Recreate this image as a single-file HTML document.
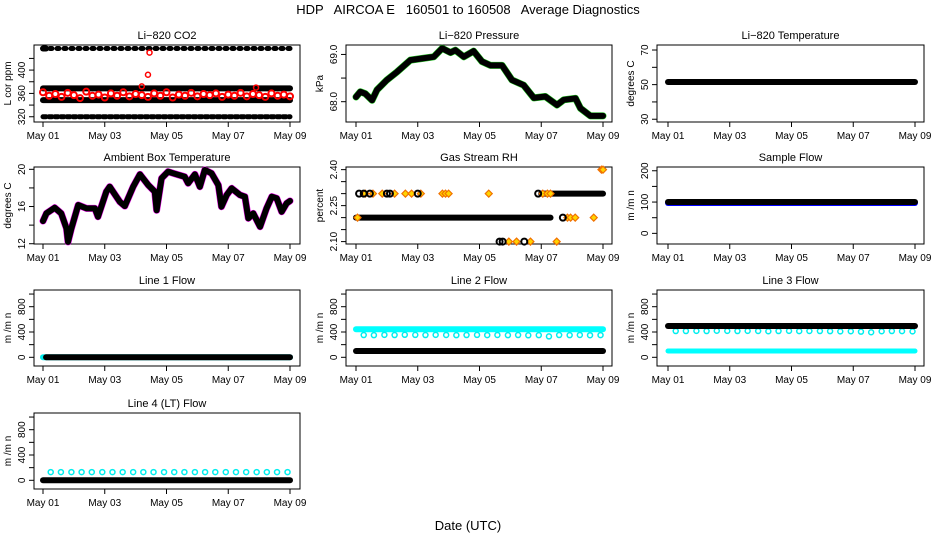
<!DOCTYPE html>
<html><head><meta charset="utf-8"><style>
body{margin:0;background:#fff;}
svg{display:block;font-family:"Liberation Sans",sans-serif;}
#main-title{white-space:pre;}
</style></head><body>
<svg id="c" width="936" height="540" xmlns="http://www.w3.org/2000/svg">
<text id="main-title" x="468" y="14" text-anchor="middle" font-size="13" xml:space="preserve">HDP   AIRCOA E   160501 to 160508   Average Diagnostics</text>
<text x="468" y="530" text-anchor="middle" font-size="13">Date (UTC)</text>
</svg>
<script>
// ---- data ----
const dateTicks = [0, 2, 4, 6, 8];
const dateLabels = ["May 01", "May 03", "May 05", "May 07", "May 09"];
const co2Bands = [437, 368.7, 348.6, 320];
const co2RedDays = [0,0.2,0.4,0.6,0.8,1.0,1.2,1.4,1.6,1.8,2.0,2.2,2.4,2.6,2.8,3.0,3.2,3.4,3.6,3.8,4.0,4.2,4.4,4.6,4.8,5.0,5.2,5.4,5.6,5.8,6.0,6.2,6.4,6.6,6.8,7.0,7.2,7.4,7.6,7.8,8.0];
const co2RedVals = [362,356,359,354,361,357,352,363,356,358,353,360,356,362,355,359,357,354,360,356,362,353,358,356,361,355,359,357,360,354,358,356,361,355,359,357,354,360,356,358,355];
const co2OutDays = [3.2, 3.4, 3.45, 6.9];
const co2OutVals = [372, 392, 430, 370];
const presDays = [0,0.14,0.30,0.52,0.68,1.0,1.33,1.76,2.19,2.52,2.79,3.06,3.22,3.49,3.81,4.08,4.35,4.73,5.05,5.43,5.76,6.13,6.51,6.73,7.11,7.27,7.59,8.0];
const presVals = [68.10,68.21,68.17,68.03,68.25,68.46,68.63,68.88,68.92,68.95,69.13,69.04,69.09,68.95,69.07,68.85,68.77,68.77,68.46,68.35,68.08,68.11,67.93,68.04,68.07,67.86,67.70,67.70];
const ambDays = [0,0.11,0.38,0.59,0.76,0.81,0.92,1.14,1.41,1.68,1.78,2.05,2.16,2.49,2.65,2.92,3.14,3.41,3.62,3.68,3.84,4.05,4.22,4.59,4.70,4.92,5.08,5.24,5.46,5.68,5.78,5.95,6.11,6.38,6.54,6.65,6.81,7.03,7.24,7.41,7.57,7.73,7.89,8.0];
const ambVals = [14.44,15.26,15.87,15.26,13.65,12.2,13.65,16.16,15.8,15.8,14.9,17.6,18.13,16.5,16.05,18.13,19.46,18.3,17.6,15.6,19.03,19.75,19.57,19.2,18.5,19.46,18.13,19.93,19.57,18.3,15.98,17.24,17.96,17.24,17.06,14.73,15.26,13.83,15.8,17.06,16.88,15.44,16.34,16.6];
const liTempVal = 51.5;
const rhBandStart = [0, 6.0];
const rhBandEnd = [6.3, 8.0];
const rhBandVals = [2.20, 2.30];
const rhBlackDays = [0.1,0.25,0.45,1.0,1.1,2.0,4.65,4.75,5.45,5.9,6.7];
const rhBlackVals = [2.30,2.30,2.30,2.30,2.30,2.30,2.10,2.10,2.10,2.30,2.20];
const rhOrgDays = [0.05,0.3,0.55,0.85,1.25,1.6,1.8,2.1,2.8,2.9,3.0,4.3,4.95,5.2,5.65,6.05,6.2,6.3,6.5,6.85,6.95,7.1,7.7,7.95,8.0];
const rhOrgVals = [2.20,2.30,2.30,2.30,2.30,2.30,2.30,2.30,2.30,2.30,2.30,2.30,2.10,2.10,2.10,2.30,2.30,2.30,2.10,2.20,2.20,2.20,2.20,2.40,2.40];
const sampleFlowVal = 100;
const line1Val = 0;
const line2Bands = [443, 100];
const line3Bands = [495, 100];
const line4Val = 0;
const circleDays = [0.25,0.58,0.92,1.25,1.58,1.92,2.25,2.58,2.92,3.25,3.58,3.92,4.25,4.58,4.92,5.25,5.58,5.92,6.25,6.58,6.92,7.25,7.58,7.92];
const line2Circles = [352,350,355,352,356,354,352,355,353,350,352,354,351,353,350,352,348,350,330,352,350,353,349,351];
const line3Circles = [415,415,418,415,420,418,415,418,416,412,415,418,414,416,415,413,410,412,405,396,412,415,414,410];
const line4Circles = [130,130,130,130,130,130,130,130,130,130,130,130,130,130,130,130,130,130,130,130,130,130,130,130];

// ---- layout ----
const NS = "http://www.w3.org/2000/svg";
const svg = document.getElementById("c");
const cols = [{l:34,r:300,x0:43,x1:290},{l:346,r:612,x0:356,x1:603},{l:657,r:924,x0:668,x1:915}];
const rows = [{t:45,b:122},{t:167,b:244},{t:290,b:366},{t:413,b:489}];
function mk(tag, attrs, parent){
  const e = document.createElementNS(NS, tag);
  for (const k in attrs) e.setAttribute(k, attrs[k]);
  (parent || svg).appendChild(e);
  return e;
}
function panel(ci, ri, name, title, ylab, ylo, yhi, ticks, labels){
  const c = cols[ci], r = rows[ri];
  const g = mk("g", {});
  
  
  const sx = d => c.x0 + (c.x1 - c.x0) * d / 8;
  const sy = v => r.b - (v - ylo) / (yhi - ylo) * (r.b - r.t);
  const t = mk("text", {x:(c.l+c.r)/2, y:r.t-6, "text-anchor":"middle", "font-size":"11"}, g);
  t.textContent = title;
  
  
  const box = mk("rect", {x:c.l, y:r.t, width:c.r-c.l, height:r.b-r.t, fill:"none", stroke:"#000", "stroke-width":"1"}, g);
  
  
  dateTicks.forEach((d, i) => {
    mk("line", {x1:sx(d), x2:sx(d), y1:r.b, y2:r.b+5, stroke:"#000"}, g);
    const lt = mk("text", {x:sx(d), y:r.b+17, "text-anchor":"middle", "font-size":"10"}, g);
    lt.textContent = dateLabels[i];
    
    
  });
  ticks.forEach((v, i) => {
    const y = sy(v);
    mk("line", {x1:c.l-5, x2:c.l, y1:y, y2:y, stroke:"#000"}, g);
    if (labels[i] !== "") {
      const lt = mk("text", {x:c.l-9, y:y, "text-anchor":"middle", "font-size":"10", transform:`rotate(-90 ${c.l-9} ${y})`}, g);
      lt.textContent = labels[i];
      
      
    }
  });
  const yl = mk("text", {x:c.l-23, y:(r.t+r.b)/2, "text-anchor":"middle", "font-size":"10", transform:`rotate(-90 ${c.l-23} ${(r.t+r.b)/2})`}, g);
  yl.textContent = ylab;
  
  
  return {g, sx, sy};
}
function line(p, days, vals, color, w, dash){
  const pts = days.map((d, i) => p.sx(d) + "," + p.sy(vals[i])).join(" ");
  const a = {points:pts, fill:"none", stroke:color, "stroke-width":w, "stroke-linejoin":"round", "stroke-linecap":"round"};
  if (dash) a["stroke-dasharray"] = dash;
  const e = mk("polyline", a, p.g);
  
  
  return e;
}
function circles(p, days, vals, color, rr, sw){
  days.forEach((d, i) => {
    const e = mk("circle", {cx:p.sx(d), cy:p.sy(vals[i]), r:rr, fill:"none", stroke:color, "stroke-width":sw}, p.g);
    
    
  });
}
function diamonds(p, days, vals){
  days.forEach((d, i) => {
    const x = p.sx(d), y = p.sy(vals[i]);
    const e = mk("polygon", {points:`${x},${y-3.5} ${x+3.5},${y} ${x},${y+3.5} ${x-3.5},${y}`, fill:"#ffd400", stroke:"#f07000", "stroke-width":"1.2"}, p.g);
    
    
  });
}

// CO2
let p = panel(0,0,"li820-co2","Li\u2212820 CO2","L cor ppm",311,443,[320,340,360,380,400,420],["320","","360","","400",""]);
line(p,[0,8],[co2Bands[0],co2Bands[0]],"#000",5,"2 5");
line(p,[0,0.1],[co2Bands[0],co2Bands[0]],"#000",6);
line(p,[0,8],[co2Bands[1],co2Bands[1]],"#000",6);
line(p,[0,8],[co2Bands[2],co2Bands[2]],"#000",6);
circles(p,co2RedDays,co2RedVals,"#f00",3,2);
line(p,[0,8],[co2Bands[3],co2Bands[3]],"#000",5,"3 3");
circles(p,co2OutDays,co2OutVals,"#f00",2.5,1.5);

// Pressure
p = panel(1,0,"li820-pressure","Li\u2212820 Pressure","kPa",67.57,69.2,[68.0,68.5,69.0],["68.0","","69.0"]);
line(p,presDays,presVals,"#2c2",7);
line(p,presDays,presVals,"#000",6);

// Li temp
p = panel(2,0,"li820-temperature","Li\u2212820 Temperature","degrees C",28.4,72.9,[30,40,50,60,70],["30","","50","","70"]);
line(p,[0,8],[liTempVal,liTempVal],"#000",6);

// Ambient
p = panel(0,1,"ambient-box-temperature","Ambient Box Temperature","degrees C",11.97,20.25,[12,14,16,18,20],["12","","16","","20"]);
line(p,ambDays,ambVals,"#e0e",7);
line(p,ambDays,ambVals,"#000",6);

// RH
p = panel(1,1,"gas-stream-rh","Gas Stream RH","percent",2.09,2.411,[2.10,2.15,2.20,2.25,2.30,2.35,2.40],["2.10","","","2.25","","","2.40"]);
rhBandVals.forEach((v, i) => line(p,[rhBandStart[i],rhBandEnd[i]],[v,v],"#000",6));
diamonds(p,rhOrgDays,rhOrgVals);
circles(p,rhBlackDays,rhBlackVals,"#000",3,2);

// Sample flow
p = panel(2,1,"sample-flow","Sample Flow","m /m n",-34,212,[0,50,100,150,200],["0","","100","","200"]);
line(p,[0,8],[sampleFlowVal-3,sampleFlowVal-3],"#00f",6);
line(p,[0,8],[sampleFlowVal,sampleFlowVal],"#000",6);

const fT = [0,200,400,600,800,1000], fL = ["0","","400","","800",""];
p = panel(0,2,"line-1-flow","Line 1 Flow","m /m n",-137.5,1064,fT,fL);
line(p,[0,8],[line1Val,line1Val],"#0ee",6);
line(p,[0.1,8],[line1Val,line1Val],"#000",6);
p = panel(1,2,"line-2-flow","Line 2 Flow","m /m n",-137.5,1064,fT,fL);
line(p,[0,8],[line2Bands[0],line2Bands[0]],"#0ff",6);
circles(p,circleDays,line2Circles,"#0ee",2.5,1.5);
line(p,[0,8],[line2Bands[1]+12,line2Bands[1]+12],"#0ff",3);
line(p,[0,8],[line2Bands[1],line2Bands[1]],"#000",6);
p = panel(2,2,"line-3-flow","Line 3 Flow","m /m n",-137.5,1064,fT,fL);
line(p,[0,8],[line3Bands[1],line3Bands[1]],"#0ff",5);
circles(p,circleDays,line3Circles,"#0ee",2.5,1.5);
line(p,[0,8],[line3Bands[0],line3Bands[0]],"#000",6);
p = panel(0,3,"line-4-lt-flow","Line 4 (LT) Flow","m /m n",-137.5,1064,fT,fL);
circles(p,circleDays,line4Circles,"#0ee",2.5,1.5);
line(p,[0,8],[line4Val,line4Val],"#000",6);
</script>
</body></html>
